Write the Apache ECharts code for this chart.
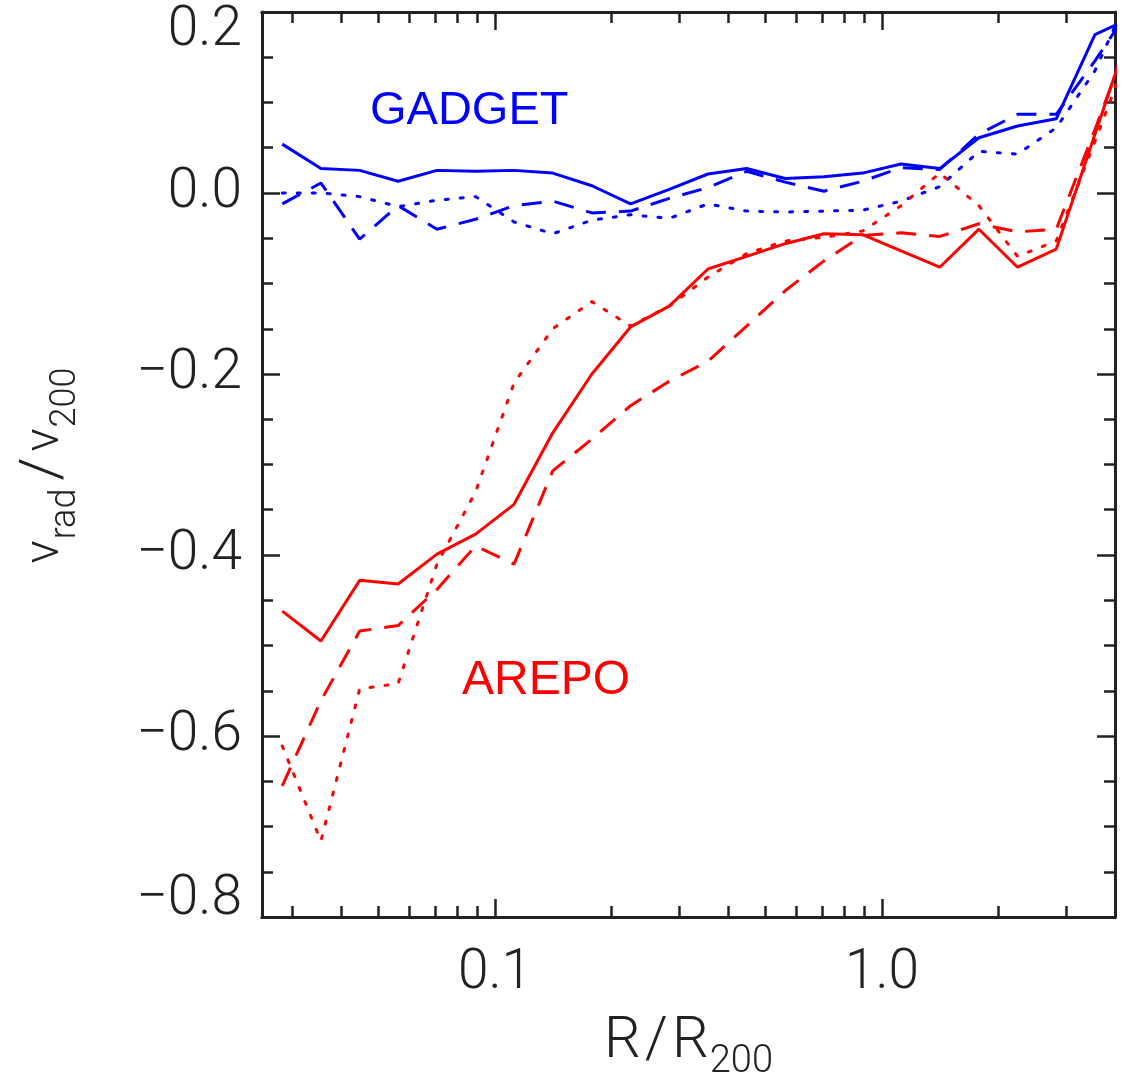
<!DOCTYPE html>
<html>
<head>
<meta charset="utf-8">
<title>Radial velocity profiles</title>
<script src="https://cdn.jsdelivr.net/npm/echarts@6/dist/echarts.min.js"></script>
<style>
  html, body { margin: 0; padding: 0; background: #ffffff; }
  #chart { width: 1128px; height: 1088px; }
</style>
</head>
<body>
<div id="chart"></div>
<script>
// Radial bins in units of R200 (equal steps of 0.1 dex)
const rBins = [0.0282, 0.0355, 0.0447, 0.0562, 0.0708, 0.0891, 0.112, 0.141, 0.178, 0.224,
               0.282, 0.355, 0.447, 0.562, 0.708, 0.891, 1.12, 1.41, 1.78, 2.24, 2.82, 3.55, 4.47];

// v_rad / v_200 profiles, GADGET (blue)
const gadgetSolid  = [0.054, 0.027, 0.025, 0.013, 0.025, 0.024, 0.025, 0.022, 0.008, -0.012, 0.004, 0.021,
                      0.027, 0.016, 0.018, 0.022, 0.032, 0.027, 0.061, 0.074, 0.082, 0.175, 0.195];
const gadgetDashed = [-0.012, 0.011, -0.051, -0.014, -0.040, -0.029, -0.014, -0.009, -0.022, -0.020, -0.006, 0.006,
                      0.024, 0.012, 0.002, 0.013, 0.028, 0.026, 0.065, 0.087, 0.087, 0.146, 0.210];
const gadgetDotted = [0.000, 0.000, -0.004, -0.015, -0.008, -0.004, -0.032, -0.045, -0.030, -0.024, -0.028, -0.012,
                      -0.020, -0.021, -0.020, -0.019, -0.009, 0.007, 0.046, 0.043, 0.072, 0.135, 0.230];

// v_rad / v_200 profiles, AREPO (red)
const arepoSolid  = [-0.462, -0.495, -0.428, -0.432, -0.399, -0.377, -0.344, -0.265, -0.200, -0.148, -0.125, -0.084,
                     -0.070, -0.056, -0.045, -0.046, -0.064, -0.082, -0.040, -0.082, -0.062, 0.065, 0.192];
const arepoDashed = [-0.655, -0.561, -0.484, -0.478, -0.438, -0.390, -0.410, -0.307, -0.272, -0.235, -0.208, -0.186,
                     -0.147, -0.108, -0.075, -0.047, -0.044, -0.048, -0.034, -0.043, -0.040, 0.070, 0.185];
const arepoDotted = [-0.611, -0.716, -0.548, -0.542, -0.410, -0.330, -0.210, -0.150, -0.120, -0.147, -0.125, -0.093,
                     -0.067, -0.053, -0.049, -0.042, -0.014, 0.022, -0.014, -0.070, -0.053, 0.057, 0.170];

// Axis ticks
const xMajorTicks = [0.1, 1];
const xMinorTicks = [0.03, 0.04, 0.05, 0.06, 0.07, 0.08, 0.09, 0.2, 0.3, 0.4, 0.5, 0.6, 0.7, 0.8, 0.9, 2, 3];

const AXIS_COLOR = '#222222';
const FONT = 'Roboto';
const BLUE = '#0000ff';
const RED = '#ff0000';
const SOLID = 'solid';
const DASHED = [20, 13];
const DOTTED = [3, 12];

function pairs(vals) {
  return rBins.map((r, i) => [r, vals[i]]);
}

function profile(name, vals, color, dash) {
  return {
    name: name,
    type: 'line',
    data: pairs(vals),
    showSymbol: false,
    symbol: 'none',
    clip: true,
    silent: true,
    lineStyle: { color: color, width: 3, type: dash, cap: dash === DOTTED ? 'round' : 'butt' },
    z: 3
  };
}

function xAxisDef(position, ticks, len, withLabels) {
  return {
    type: 'log',
    logBase: 10,
    position: position,
    min: 0.025,
    max: 4,
    axisLine: { show: true, onZero: false, lineStyle: { color: AXIS_COLOR, width: 3 } },
    axisTick: { show: true, inside: true, length: len, customValues: ticks,
                lineStyle: { color: AXIS_COLOR, width: 2.5 } },
    minorTick: { show: false },
    splitLine: { show: false },
    axisLabel: withLabels ? {
      show: true,
      customValues: xMajorTicks,
      margin: 30,
      fontFamily: FONT,
      fontWeight: 300,
      fontSize: 55,
      color: '#222',
      formatter: v => Number(v).toFixed(1)
    } : { show: false }
  };
}

// Edge labels sit inside the frame: the top one is pushed down, the bottom one up
const edgeLabelStyle = { fontFamily: FONT, fontWeight: 300, fontSize: 55, color: '#222' };

function yAxisDef(position, withLabels) {
  return {
    type: 'value',
    position: position,
    min: -0.8,
    max: 0.2,
    interval: 0.2,
    axisLine: { show: true, onZero: false, lineStyle: { color: AXIS_COLOR, width: 3 } },
    axisTick: { show: true, inside: true, length: 18, lineStyle: { color: AXIS_COLOR, width: 2.5 } },
    minorTick: { show: true, splitNumber: 4, length: 11, lineStyle: { color: AXIS_COLOR, width: 2.5 } },
    splitLine: { show: false },
    axisLabel: withLabels ? {
      show: true,
      margin: 20,
      fontFamily: FONT,
      fontWeight: 300,
      fontSize: 55,
      color: '#222',
      formatter: v => {
        const txt = Math.abs(v) < 1e-9 ? '0.0' : v.toFixed(1).replace('-', '\u2212');
        if (v > 0.19) return '{hi|' + txt + '}';
        if (v < -0.79) return '{lo|' + txt + '}';
        return txt;
      },
      rich: {
        hi: Object.assign({ padding: [38, 0, 0, 0] }, edgeLabelStyle),
        lo: Object.assign({ padding: [0, 0, 34, 0] }, edgeLabelStyle)
      }
    } : { show: false }
  };
}

const chart = echarts.init(document.getElementById('chart'), null, { renderer: 'canvas' });

// Axis titles with lowered subscripts
const xBottom = xAxisDef('bottom', xMajorTicks, 18, true);
xBottom.name = '{m|R}{sl|/}{m|R}{s|200}';
xBottom.nameLocation = 'middle';
xBottom.nameGap = 96;
xBottom.nameTextStyle = {
  rich: {
    m:  { fontFamily: FONT, fontWeight: 300, fontSize: 58, color: '#222', verticalAlign: 'top' },
    sl: { fontFamily: FONT, fontWeight: 300, fontSize: 58, color: '#222', verticalAlign: 'top', padding: [0, 4, 0, 4] },
    s:  { fontFamily: FONT, fontWeight: 300, fontSize: 38, color: '#222', verticalAlign: 'top', padding: [30, 0, 0, 1] }
  }
};

const yLeft = yAxisDef('left', true);
yLeft.name = '{m|v}{s|rad}{sl|/}{m|v}{s|200}';
yLeft.nameLocation = 'middle';
yLeft.nameGap = 178;
yLeft.nameTextStyle = {
  rich: {
    m:  { fontFamily: FONT, fontWeight: 300, fontSize: 48, color: '#222', verticalAlign: 'top' },
    sl: { fontFamily: FONT, fontWeight: 300, fontSize: 58, color: '#222', verticalAlign: 'top', padding: [-6, 6, 0, 6] },
    s:  { fontFamily: FONT, fontWeight: 300, fontSize: 36, color: '#222', verticalAlign: 'top', padding: [26, 2, 0, 1] }
  }
};

chart.setOption({
  animation: false,
  backgroundColor: '#ffffff',
  grid: { left: 262, right: 13, top: 12, bottom: 171, containLabel: false },
  xAxis: [
    xBottom,
    xAxisDef('bottom', xMinorTicks, 11, false),
    xAxisDef('top', xMajorTicks, 18, false),
    xAxisDef('top', xMinorTicks, 11, false)
  ],
  yAxis: [
    yLeft,
    yAxisDef('right', false)
  ],
  series: [
    profile('GADGET solid', gadgetSolid, BLUE, SOLID),
    profile('GADGET dashed', gadgetDashed, BLUE, DASHED),
    profile('GADGET dotted', gadgetDotted, BLUE, DOTTED),
    profile('AREPO solid', arepoSolid, RED, SOLID),
    profile('AREPO dashed', arepoDashed, RED, DASHED),
    profile('AREPO dotted', arepoDotted, RED, DOTTED)
  ],
  graphic: [
    { type: 'text', left: 370, top: 88,
      style: { text: 'GADGET', fill: BLUE, font: '47px "Liberation Sans", Arial, sans-serif' } },
    { type: 'text', left: 462, top: 657,
      style: { text: 'AREPO', fill: RED, font: '48px "Liberation Sans", Arial, sans-serif' } }
  ]
});
</script>
</body>
</html>
